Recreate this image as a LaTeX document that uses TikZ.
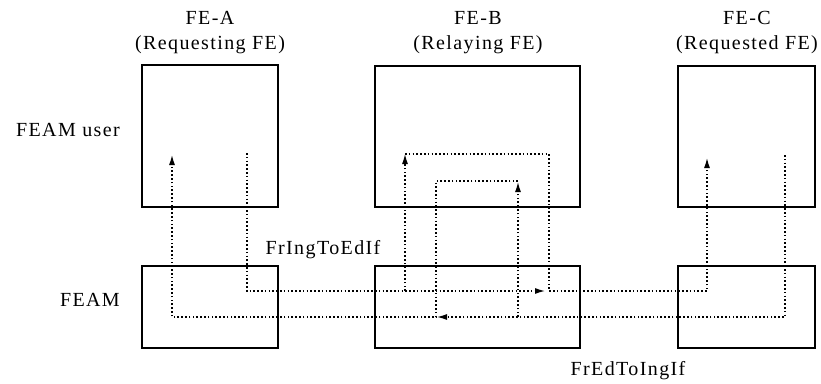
\documentclass[tikz,border=0pt]{standalone}
\usepackage{fontspec}
\setmainfont{Liberation Serif}[LetterSpace=7]
\usetikzlibrary{arrows.meta}
\tikzset{
    febox/.style = {draw, line width = 1.2pt, inner sep = 0pt},
    flow/.style = {line width = 1.2pt, dash pattern = on 1.6pt off 2.2pt},
    tip/.style = {-{Latex[length = 10pt, width = 6pt]}},
    lbl/.style = {inner sep = 0pt, anchor = base, font = \fontsize{20}{24}\selectfont}
}
\begin{document}
\begin{tikzpicture}[x = 1pt, y = -1pt]
    \useasboundingbox (0,0) rectangle (821,383);

        \node[lbl](feA) at(210, 24){FE-A};
        \node[lbl](roleA) at(210, 49){(Requesting FE)};
        \node[lbl](feB) at(478, 24){FE-B};
        \node[lbl](roleB) at(478, 49){(Relaying FE)};
        \node[lbl](feC) at(747, 24){FE-C};
        \node[lbl](roleC) at(747, 49){(Requested FE)};

        \node[lbl, anchor = base east](userlbl) at(120, 136){FEAM user};
        \node[lbl, anchor = base east](feamlbl) at(120, 306){FEAM};

        \node[febox, minimum width = 136pt, minimum height = 142pt](userA) at(210, 136){};
        \node[febox, minimum width = 205pt, minimum height = 141pt](userB) at(477.5, 136.5){};
        \node[febox, minimum width = 137pt, minimum height = 141pt](userC) at(746.5, 136.5){};

        \node[febox, minimum width = 136pt, minimum height = 82pt](feamA) at(210, 307){};
        \node[febox, minimum width = 205pt, minimum height = 82pt](feamB) at(477.5, 307){};
        \node[febox, minimum width = 137pt, minimum height = 82pt](feamC) at(746.5, 307){};

        \node[lbl](ingtoed) at(323, 254){FrIngToEdIf};
        \node[lbl](edtoing) at(628, 375){FrEdToIngIf};

        \coordinate(outA) at(247, 153);
        \coordinate(inB) at(545, 291);
        \coordinate(upB) at(405, 291);
        \coordinate(userBin) at(405, 154);
        \coordinate(userBout) at(549, 154);
        \coordinate(inC) at(707, 158);
        \coordinate(outC) at(785, 155);
        \coordinate(backB) at(437, 317);
        \coordinate(upBb) at(518, 317);
        \coordinate(userBbin) at(518, 182);
        \coordinate(userBbout) at(518, 181);
        \coordinate(inA) at(172, 155);

        \draw[flow, tip](outA) |- (inB);
        \draw[flow, tip](upB) to (userBin);
        \draw[flow, tip](userBin) -| (userBout |- inB) -| (inC);

        \draw[flow, tip](outC) |- (backB);
        \draw[flow, tip](upBb) to (userBbin);
        \draw[flow, tip](userBbout) -| (436, 317) -| (inA);
\end{tikzpicture}
\end{document}
